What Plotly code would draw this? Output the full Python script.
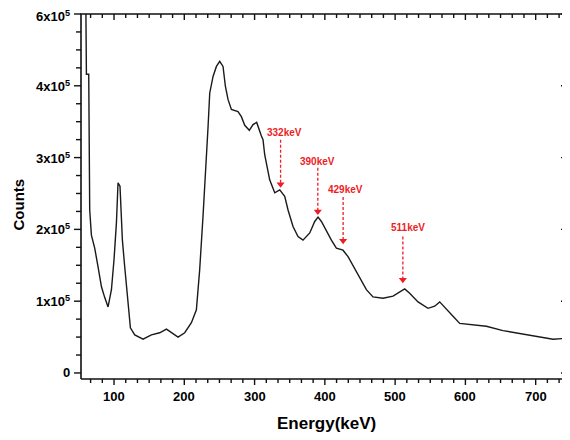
import plotly.graph_objects as go

# Spectrum (Energy in keV, counts); first point reaches the top
energy = [60, 60.7, 64.0, 64.6, 65.4, 67.8, 72.5, 77.2, 82.1, 86.8, 91.5, 96.3, 100.0,
          103.4, 105.7, 108.5, 111.9, 115.2, 119.9, 123.3, 129.5, 141.3, 153.2, 165.0,
          174.6, 181.7, 191.1, 200.6, 210.1, 217.2, 221.9, 226.6, 230.0, 233.8, 236.2,
          240.9, 245.7, 250.4, 255.1, 258.5, 262.2, 267.0, 276.4, 281.2, 286.0, 292.5,
          297.8, 303.0, 309.7, 312.0, 314.4, 317.7, 321.5, 328.7, 335.8, 342.9, 347.6,
          354.7, 361.8, 368.9, 378.5, 385.6, 390.3, 395.1, 402.2, 409.3, 416.4, 425.8,
          433.0, 442.5, 449.6, 459.1, 468.5, 482.8, 497.0, 506.5, 513.6, 520.7, 532.6,
          546.8, 556.3, 563.4, 570.5, 582.4, 591.9, 610.8, 629.8, 653.5, 677.3, 701.0,
          724.7, 738.9, 746.0]
counts = [500000, 416000, 416000, 293000, 227000, 192000, 174000, 148000, 120000, 105000,
          92000, 116000, 158000, 209000, 265000, 260000, 185000, 148000, 102000, 63000,
          53000, 47000, 53000, 56000, 61000, 56000, 50000, 56000, 70000, 88000, 144000,
          218000, 287000, 343000, 390000, 413000, 427000, 434000, 427000, 399000, 381000,
          367000, 364000, 357000, 345000, 338000, 346000, 349000, 330000, 325000, 304000,
          288000, 269000, 251000, 255000, 246000, 227000, 204000, 190000, 185000, 195000,
          211000, 217000, 211000, 197000, 185000, 174000, 171000, 162000, 146000, 132000,
          116000, 106000, 104000, 107000, 113000, 117000, 111000, 99000, 90000, 93000,
          99000, 92000, 79000, 69000, 67000, 65000, 59000, 55000, 51000, 47000, 48000,
          51000]

# Peak annotations
peak_labels = ["332keV", "390keV", "429keV", "511keV"]
arrow_x = [337, 390, 426, 511]
label_x = [343, 390, 430, 518]
label_y = [335000, 295000, 255000, 202000]
arrow_top = [325000, 286000, 245000, 190000]
arrow_tip = [258000, 220000, 179000, 125000]

y_tickvals = [0, 100000, 200000, 300000, 400000, 500000]
y_ticktext = ["0", "1x10<sup>5</sup>", "2x10<sup>5</sup>", "3x10<sup>5</sup>",
              "4x10<sup>5</sup>", "6x10<sup>5</sup>"]
x_tickvals = [100, 200, 300, 400, 500, 600, 700]
x_ticktext = [str(v) for v in x_tickvals]

# visible frame (data limits)
X0, X1 = 53, 746
Y0, Y1 = -8400, 500000

x_minor = [i * 100 / 6 for i in range(4, 45) if i % 6 != 0]
y_minor = [i * 25000 for i in range(1, 20) if i % 4 != 0]

# ---- geometry (pixels, figure is drawn 8px inside the window) ----
W, H = 562, 432
FL, FR, FT, FB = 73, 560, 6, 371          # frame edges in figure pixels
kx = (FR - FL) / (X1 - X0)                # px per keV
ky = (FB - FT) / (Y1 - Y0)                # px per count
full_x = [X0 - FL / kx, X1 + (W - FR) / kx]
full_y = [Y0 - (H - FB) / ky, Y1 + FT / ky]

RED = "#ee1c25"
FONT = "Liberation Sans, Arial, sans-serif"
BLACK = "#111111"

fig = go.Figure()
fig.add_trace(go.Scatter(x=energy, y=counts, mode="lines",
                         line=dict(color="#1a1a1a", width=1.4), hoverinfo="skip",
                         showlegend=False))

for ax, top, tip in zip(arrow_x, arrow_top, arrow_tip):
    fig.add_trace(go.Scatter(x=[ax, ax], y=[top, tip + 6000], mode="lines",
                             line=dict(color=RED, width=1.3, dash="3px,2px"),
                             hoverinfo="skip", showlegend=False))
    fig.add_trace(go.Scatter(x=[ax], y=[tip + 5000], mode="markers",
                             marker=dict(symbol="triangle-down", size=7, color=RED,
                                         line=dict(width=0)),
                             hoverinfo="skip", showlegend=False))

for txt, lx, ly in zip(peak_labels, label_x, label_y):
    fig.add_annotation(x=lx, y=ly, text=txt, showarrow=False, xanchor="center",
                       yanchor="middle",
                       font=dict(family=FONT, size=10, color=RED, weight="bold"))

# ---- frame ----
fig.add_trace(go.Scatter(x=[X0, X1, X1, X0, X0], y=[Y0, Y0, Y1, Y1, Y0], mode="lines",
                         line=dict(color=BLACK, width=1.6), hoverinfo="skip",
                         showlegend=False))

# ---- ticks (bottom/left outside, top/right inside) ----
tx, ty = [], []
for vals, length in ((x_tickvals, 6), (x_minor, 4)):
    d = length / ky
    for v in vals:
        tx += [v, v, None, v, v, None]
        ty += [Y0, Y0 - d, None, Y1, Y1 - d, None]
for vals, length in ((y_tickvals, 7), (y_minor, 5)):
    d = length / kx
    for v in vals:
        tx += [X0, X0 - d, None, X1, X1 - d, None]
        ty += [v, v, None, v, v, None]
fig.add_trace(go.Scatter(x=tx, y=ty, mode="lines", line=dict(color=BLACK, width=1.4),
                         hoverinfo="skip", showlegend=False))

# ---- tick labels ----
for v, t in zip(x_tickvals, x_ticktext):
    fig.add_annotation(x=v, y=Y0, text=t, showarrow=False, xanchor="center",
                       yanchor="top", yshift=-8,
                       font=dict(family=FONT, size=13, weight="bold"))
for v, t in zip(y_tickvals, y_ticktext):
    fig.add_annotation(x=X0, y=v, text=t, showarrow=False, xanchor="right",
                       yanchor="middle", xshift=-9, yshift=(-2 if v == Y1 else 0),
                       font=dict(family=FONT, size=13, weight="bold"))

# ---- axis titles ----
fig.add_annotation(text="Energy(keV)", x=(X0 + X1) / 2, y=Y0, xshift=2, yshift=-44,
                   showarrow=False, xanchor="center", yanchor="middle",
                   font=dict(family=FONT, size=17, weight="bold"))
fig.add_annotation(text="Counts", x=X0, y=(Y0 + Y1) / 2, xshift=-63, yshift=-8,
                   showarrow=False, xanchor="center", yanchor="middle", textangle=-90,
                   font=dict(family=FONT, size=15, weight="bold"))

fig.update_layout(
    width=W, height=H,
    margin=dict(l=0, r=0, t=0, b=0),
    plot_bgcolor="white", paper_bgcolor="white",
    font=dict(family=FONT, color="black"),
    xaxis=dict(range=full_x, visible=False, showgrid=False, zeroline=False),
    yaxis=dict(range=full_y, visible=False, showgrid=False, zeroline=False),
)

fig.write_html("out.html")
